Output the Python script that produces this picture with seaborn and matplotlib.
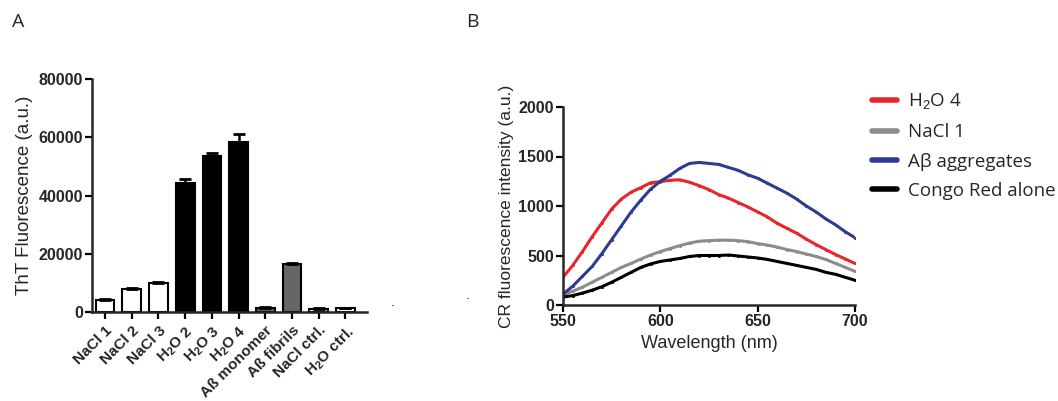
import numpy as np
import pandas as pd
import matplotlib
matplotlib.use("Agg")
import matplotlib.pyplot as plt
import seaborn as sns
from matplotlib.lines import Line2D

sns.set_theme(style="ticks")
plt.rcParams['font.family'] = ['Liberation Sans', 'DejaVu Sans']
plt.rcParams['mathtext.fontset'] = 'custom'
plt.rcParams['mathtext.rm'] = 'Liberation Sans'
plt.rcParams['mathtext.bf'] = 'Liberation Sans:bold'

# ---------------- Panel A data ----------------
bar_labels = ["NaCl 1", "NaCl 2", "NaCl 3",
              r"H$_\mathbf{2}$O 2", r"H$_\mathbf{2}$O 3", r"H$_\mathbf{2}$O 4",
              "Aß monomer", "Aß fibrils", "NaCl ctrl.", r"H$_\mathbf{2}$O ctrl."]
bar_values = [4200, 8000, 9900, 44400, 53700, 58300, 1500, 16400, 1200, 1300]
bar_errors = [200, 400, 300, 1200, 900, 2700, 200, 300, 150, 200]
bar_colors = ["white", "white", "white", "black", "black", "black",
              "#666666", "#666666", "white", "white"]
a_yticks = [0, 20000, 40000, 60000, 80000]

# ---------------- Panel B data ----------------
wavelength = [550, 555, 560, 565, 570, 575, 580, 585, 590, 595, 600, 605, 610, 615, 620, 625,
              630, 635, 640, 645, 650, 655, 660, 665, 670, 675, 680, 685, 690, 695, 700]
h2o4 = [280, 400, 540, 690, 830, 970, 1070, 1140, 1185, 1235, 1245, 1260, 1265, 1240, 1205, 1165,
        1115, 1080, 1035, 990, 940, 890, 825, 775, 725, 665, 610, 560, 510, 465, 420]
nacl1 = [100, 140, 180, 230, 280, 330, 380, 420, 465, 505, 540, 570, 600, 625, 645, 650,
         655, 655, 650, 640, 620, 605, 585, 560, 540, 515, 490, 460, 420, 380, 340]
abeta = [110, 190, 290, 390, 520, 660, 800, 940, 1060, 1170, 1250, 1310, 1380, 1430, 1440, 1430,
         1420, 1390, 1360, 1315, 1280, 1230, 1180, 1130, 1070, 1000, 940, 870, 810, 740, 680]
congo = [80, 95, 120, 150, 185, 230, 280, 330, 380, 415, 440, 455, 470, 490, 500, 500,
         500, 505, 495, 485, 475, 460, 440, 420, 400, 380, 360, 330, 310, 280, 250]
series_names = ["H2O 4", "NaCl 1", "Aβ aggregates", "Congo Red alone"]
legend_labels = [r"H$_2$O 4", "NaCl 1", "Aβ aggregates", "Congo Red alone"]
series_colors = ["#e8262a", "#8c8c8c", "#2e3b92", "#000000"]

fig = plt.figure(figsize=(10.58, 4.01), dpi=100)

# ---------------- Panel A ----------------
axA = fig.add_axes([92/1058, 1-312/401, (367-92)/1058, (312-79)/401])
dfA = pd.DataFrame({"cond": [f"c{i}" for i in range(len(bar_values))], "val": bar_values})
sns.barplot(data=dfA, x="cond", y="val", ax=axA, width=0.7, errorbar=None,
            palette=bar_colors, hue="cond", legend=False,
            edgecolor="black", linewidth=1.5)
xs = np.arange(len(bar_values))
axA.errorbar(xs, bar_values, yerr=[np.zeros(len(bar_errors)), bar_errors], fmt="none",
             ecolor="black", elinewidth=1.8, capsize=4.5, capthick=2.0, zorder=1)
axA.set_ylim(0, 80000)
axA.set_xlim(-0.49, 9.81)
axA.set_yticks(a_yticks)
axA.set_yticklabels([str(v) for v in a_yticks], fontsize=11.5, fontweight="bold")
axA.set_xticks(xs)
axA.set_xticklabels(bar_labels, rotation=45, ha="right", rotation_mode="anchor",
                    fontsize=11, fontweight="bold")
axA.set_xlabel("")
axA.set_ylabel("ThT Fluorescence (a.u.)", fontsize=13.5, labelpad=4)
for s in ["top", "right"]:
    axA.spines[s].set_visible(False)
for s in ["left", "bottom"]:
    axA.spines[s].set_linewidth(1.8)
axA.tick_params(axis="both", width=1.6, length=5, pad=1.5, color="black")
axA.tick_params(axis="x", pad=3)

# ---------------- Panel B ----------------
axB = fig.add_axes([563/1058, 1-305/401, (855-563)/1058, (305-107)/401])
dfB = pd.DataFrame({
    "wl": wavelength * 4,
    "val": h2o4 + nacl1 + abeta + congo,
    "series": sum([[n] * len(wavelength) for n in series_names], []),
})
sns.lineplot(data=dfB, x="wl", y="val", hue="series", hue_order=series_names,
             palette=series_colors, ax=axB, linewidth=2.2, legend=False,
             marker="o", markersize=2.2, markeredgewidth=0)
axB.set_xlim(550, 700)
axB.set_ylim(0, 2000)
axB.set_xticks([550, 600, 650, 700])
axB.set_yticks([0, 500, 1000, 1500, 2000])
axB.set_xticklabels(["550", "600", "650", "700"], fontsize=11.5, fontweight="bold")
axB.set_yticklabels(["0", "500", "1000", "1500", "2000"], fontsize=11.5, fontweight="bold")
axB.set_xlabel("Wavelength (nm)", fontsize=13, labelpad=4)
axB.set_ylabel("CR fluorescence intensity (a.u.)", fontsize=12.5, labelpad=3)
for s in ["top", "right"]:
    axB.spines[s].set_visible(False)
for s in ["left", "bottom"]:
    axB.spines[s].set_linewidth(1.8)
axB.tick_params(axis="both", width=1.6, length=5, pad=1.5, color="black")

handles = [Line2D([0], [0], color=c, lw=4) for c in series_colors]
fig.legend(handles, legend_labels, loc="upper left", bbox_to_anchor=(855/1058, 1-75/401),
           frameon=False, handlelength=1.35, handletextpad=0.55,
           labelspacing=0.6, prop={"family": ["Open Sans", "DejaVu Sans"], "size": 13.5})

# panel letters and stray marks
fig.text(18/1058, 1-22/401, "A", fontsize=14, family=["Open Sans", "DejaVu Sans"], va="center", ha="center")
fig.text(472/1058, 1-22/401, "B", fontsize=14, family=["Open Sans", "DejaVu Sans"], va="center", ha="center")
fig.text(393/1058, 1-306/401, "-", fontsize=5, fontweight="bold", va="center", ha="center")
fig.text(468/1058, 1-299/401, "-", fontsize=5, fontweight="bold", va="center", ha="center")

fig.savefig("out.png", dpi=100)
